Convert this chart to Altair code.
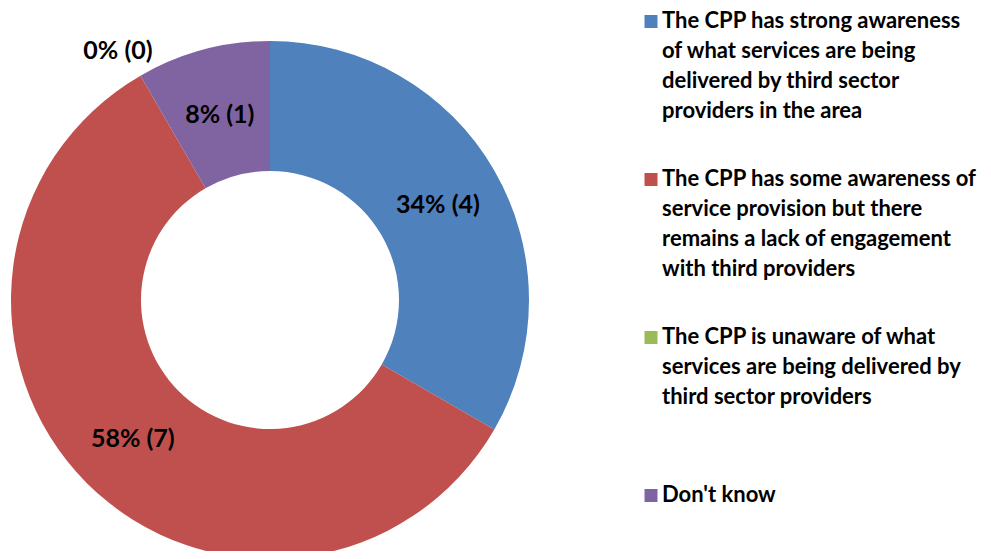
import altair as alt
import pandas as pd

categories = [
    "The CPP has strong awareness\nof what services are being\ndelivered by third sector\nproviders in the area",
    "The CPP has some awareness of\nservice provision but there\nremains a lack of engagement\nwith third providers",
    "The CPP is unaware of what\nservices are being delivered by\nthird sector providers",
    "Don't know",
]
counts = [4, 7, 0, 1]
percent_labels = ["34%", "58%", "0%", "8%"]
colors = ["#4F81BD", "#C0504D", "#9BBB59", "#8064A2"]

df = pd.DataFrame({
    "category": categories,
    "count": counts,
    "pct": percent_labels,
    "order": list(range(len(categories))),
})

FONT = "Lato"

base = alt.Chart(df).transform_calculate(
    label="datum.pct + ' (' + datum.count + ')'",
    inner_label="datum.count > 0 ? datum.label : ''",
    outer_label="datum.count > 0 ? '' : datum.label",
).encode(
    theta=alt.Theta("count:Q", stack=True),
    order=alt.Order("order:Q"),
    x=alt.value(262),
    y=alt.value(292),
)

legend = alt.Legend(
    orient="none", legendX=627, legendY=9, direction="vertical", title=None,
    symbolType="M-1,-2H1V0H-1Z", symbolSize=169, symbolStrokeWidth=0, symbolOpacity=1,
    symbolOffset=5,
    labelFont=FONT, labelFontSize=22, labelFontWeight="bold", labelColor="#000000",
    labelLimit=500, labelBaseline="alphabetic", labelOffset=0, rowPadding=46, padding=0,
    labelExpr="slice(split(datum.label + '\\n \\n \\n ', '\\n'), 0, 4)",
)

arcs = base.mark_arc(radius=259, radius2=129).encode(
    color=alt.Color("category:N", scale=alt.Scale(domain=categories, range=colors), legend=legend)
)

inner = base.mark_text(radius=194, dy=2, font=FONT, fontSize=25, fontWeight="bold", color="#000000").encode(
    text="inner_label:N"
)
outer = base.mark_text(radius=292, dx=-6, dy=4, font=FONT, fontSize=25, fontWeight="bold", color="#000000").encode(
    text="outer_label:N"
)

chart = alt.layer(arcs, inner, outer).properties(
    width=975, height=543, padding=0, background="#ffffff",
    autosize=alt.AutoSizeParams(type="none"),
).configure(
    style={"guide-label": {"lineHeight": 30}}
).configure_view(stroke=None)

chart.save("out.html", embed_options={"renderer": "svg", "actions": False})
